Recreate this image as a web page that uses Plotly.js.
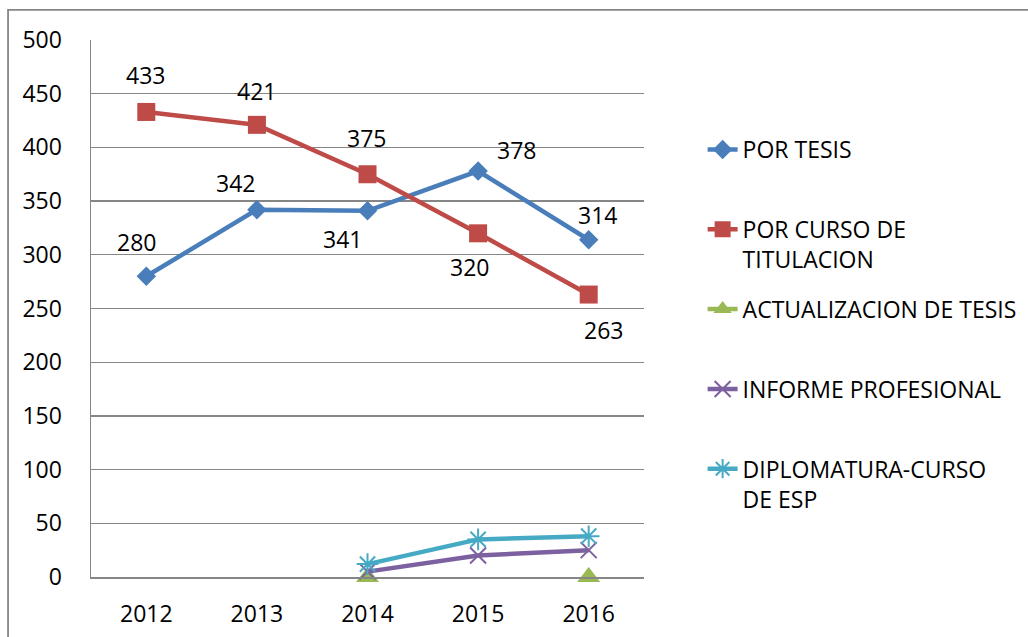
<!DOCTYPE html>
<html>
<head>
<meta charset="utf-8">
<script src="https://cdn.plot.ly/plotly-3.0.1.min.js"></script>
<style>
html,body{margin:0;padding:0;background:#fff;}
#chart{width:1028px;height:637px;}
</style>
</head>
<body>
<div id="chart"></div>
<script>
// ---- data ----
var years = ['2012','2013','2014','2015','2016'];
var seriesNames = ['POR TESIS','POR CURSO DE<br>TITULACION','ACTUALIZACION DE TESIS','INFORME PROFESIONAL','DIPLOMATURA-CURSO<br>DE ESP'];
var porTesis = [280, 342, 341, 378, 314];
var porCurso = [433, 421, 375, 320, 263];
var actualizacion = [null, null, 0, null, 0];
var informe = [null, null, 5, 20, 25];
var diplomatura = [null, null, 12, 35, 38];
var yTicks = [0,50,100,150,200,250,300,350,400,450,500];

// ---- label offsets (pixels) ----
var tesisLabelDx = [-10, -21, -25, 38, 9];
var tesisLabelDy = [34, 27, -28, 21, 25];
var cursoLabelDx = [-1, 0, -1, -9, 15];
var cursoLabelDy = [37, 34, 36, -34, -35];

var FONT = 'Open Sans, Liberation Sans, sans-serif';
var colors = ['#4A7EBB','#BE4B48','#98B954','#7D60A0','#46AAC5'];

function legendName(n){ return n.indexOf('<br>') >= 0 ? n : n + '<br> '; }

var traces = [
  {x: years, y: porTesis, name: legendName(seriesNames[0]), legendgroup:'a', mode:'lines+markers', cliponaxis:false,
   line:{color:colors[0], width:4.5}, marker:{symbol:'diamond', size:15, color:colors[0]}},
  {x: years, y: porCurso, name: legendName(seriesNames[1]), legendgroup:'b', mode:'lines+markers', cliponaxis:false,
   line:{color:colors[1], width:4.5}, marker:{symbol:'square', size:18, color:colors[1]}},
  {x: years, y: actualizacion, name: legendName(seriesNames[2]), legendgroup:'c', mode:'lines+markers', cliponaxis:false,
   line:{color:colors[2], width:4.5}, marker:{symbol:'triangle-up', size:20, color:colors[2]}},
  {x: years, y: informe, name: legendName(seriesNames[3]), legendgroup:'d', mode:'lines+markers', cliponaxis:false,
   line:{color:colors[3], width:4.5}, marker:{symbol:'x-thin-open', size:16, line:{color:colors[3], width:2}, color:colors[3]}},
  {x: years, y: diplomatura, name: legendName(seriesNames[4]), legendgroup:'e', mode:'lines+markers', cliponaxis:false,
   line:{color:colors[4], width:4.5}, marker:{symbol:'asterisk-open', size:18, line:{color:colors[4], width:2}, color:colors[4]}}
];

var annotations = [];
years.forEach(function(yr, i){
  annotations.push({xref:'x', yref:'y', x: i, y: porTesis[i], text: String(porTesis[i]), showarrow:false,
    xshift: tesisLabelDx[i], yshift: tesisLabelDy[i], font:{family:FONT, size:23, color:'#000'}});
  annotations.push({xref:'x', yref:'y', x: i, y: porCurso[i], text: String(porCurso[i]), showarrow:false,
    xshift: cursoLabelDx[i], yshift: cursoLabelDy[i], font:{family:FONT, size:23, color:'#000'}});
});

var layout = {
  width: 1028, height: 637,
  margin: {l: 91, r: 384, t: 40, b: 60, autoexpand: false},
  paper_bgcolor: '#fff', plot_bgcolor: '#fff',
  font: {family: FONT, size: 23, color: '#000'},
  showlegend: true,
  legend: {x: 1.106, y: 0.836, xanchor:'left', yanchor:'top', traceorder:'grouped',
           tracegroupgap: 17, valign:'top', font:{family:FONT, size:23, color:'#000'},
           bgcolor:'rgba(0,0,0,0)'},
  xaxis: {type:'category', range:[-0.5, 4.5], showgrid:false, showline:true, linecolor:'#868686', linewidth:1.5,
          ticks:'outside', ticklen:16, tickcolor:'rgba(0,0,0,0)', tickfont:{family:FONT, size:23, color:'#000'},
          fixedrange:true, zeroline:false, automargin:false},
  yaxis: {range:[0,500], tickvals: yTicks, showgrid:true, gridcolor:'#868686', gridwidth:1.3,
          showline:true, linecolor:'#868686', linewidth:1.5, zeroline:false, automargin:false,
          ticks:'outside', ticklen:23, tickcolor:'rgba(0,0,0,0)', tickfont:{family:FONT, size:23, color:'#000'}},
  annotations: annotations,
  shapes: [
    {type:'rect', xref:'paper', yref:'paper', x0:-0.150, x1:1.9, y0:-0.3, y1:1.056,
     line:{color:'#868686', width:1.8}, fillcolor:'rgba(0,0,0,0)', layer:'below'}
  ]
};

Plotly.newPlot('chart', traces, layout, {displayModeBar:false, staticPlot:true});
</script>
</body>
</html>
